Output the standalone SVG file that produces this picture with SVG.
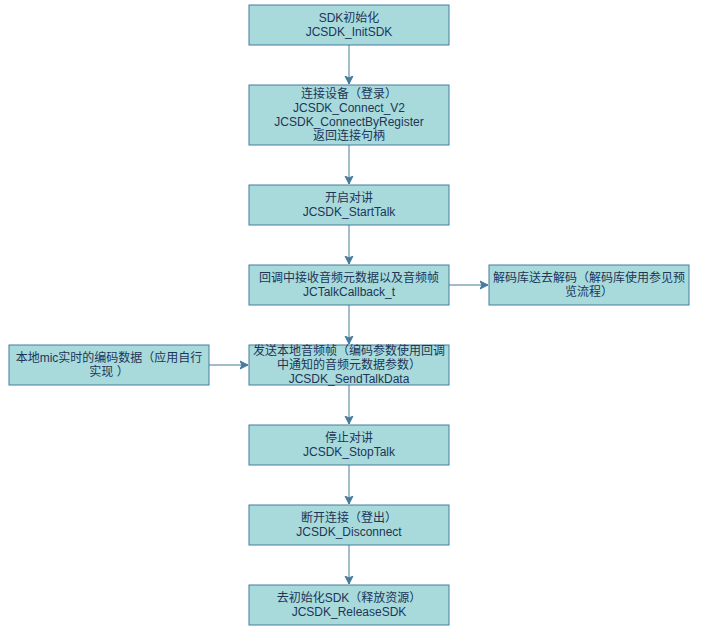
<svg xmlns="http://www.w3.org/2000/svg" width="701" height="635" viewBox="0 0 701 635">
<style>
.box{fill:#A8DADC;stroke:#457B9D;stroke-width:1}
.t{font-family:"Liberation Sans","Noto Sans CJK SC",sans-serif;font-size:12px;fill:#1D3557;text-anchor:middle;dominant-baseline:central}
.e{stroke:#457B9D;stroke-width:1;fill:none;marker-end:url(#arr)}
</style>
<defs>
<marker id="arr" markerUnits="userSpaceOnUse" markerWidth="10" markerHeight="10" refX="8" refY="4" orient="auto" viewBox="0 0 10 8">
<path d="M0,0 L8,4 L0,8 L2,4 Z" fill="#457B9D" stroke="#457B9D" stroke-width="1"/>
</marker>
</defs>
<rect width="701" height="635" fill="#ffffff"/>
<g id="connectors">
<path class="e" d="M349,45 V84"/>
<path class="e" d="M349,145 V184"/>
<path class="e" d="M349,225 V264"/>
<path class="e" d="M449,285 H488"/>
<path class="e" d="M349,305 V344"/>
<path class="e" d="M209,365 H248"/>
<path class="e" d="M349,385 V424"/>
<path class="e" d="M349,465 V504"/>
<path class="e" d="M349,545 V584"/>
</g>
<g id="init">
<rect class="box" x="249" y="5" width="200" height="40"/>
<text class="t" x="349" y="18">SDK初始化</text>
<text class="t" x="349" y="32">JCSDK_InitSDK</text>
</g>
<g id="connect">
<rect class="box" x="249" y="85" width="200" height="60"/>
<text class="t" x="349" y="94">连接设备（登录）</text>
<text class="t" x="349" y="108">JCSDK_Connect_V2</text>
<text class="t" x="349" y="122">JCSDK_ConnectByRegister</text>
<text class="t" x="349" y="136">返回连接句柄</text>
</g>
<g id="starttalk">
<rect class="box" x="249" y="185" width="200" height="40"/>
<text class="t" x="349" y="198">开启对讲</text>
<text class="t" x="349" y="212">JCSDK_StartTalk</text>
</g>
<g id="callback">
<rect class="box" x="249" y="265" width="200" height="40"/>
<text class="t" x="349" y="278">回调中接收音频元数据以及音频帧</text>
<text class="t" x="349" y="292">JCTalkCallback_t</text>
</g>
<g id="decode">
<rect class="box" x="489" y="265" width="200" height="40"/>
<text class="t" x="589" y="278">解码库送去解码（解码库使用参见预</text>
<text class="t" x="589" y="292">览流程）</text>
</g>
<g id="mic">
<rect class="box" x="9" y="345" width="200" height="40"/>
<text class="t" x="109" y="358">本地mic实时的编码数据（应用自行</text>
<text class="t" x="109" y="372">实现 ）</text>
</g>
<g id="send">
<rect class="box" x="249" y="345" width="200" height="40"/>
<text class="t" x="349" y="351">发送本地音频帧（编码参数使用回调</text>
<text class="t" x="349" y="365">中通知的音频元数据参数）</text>
<text class="t" x="349" y="379">JCSDK_SendTalkData</text>
</g>
<g id="stoptalk">
<rect class="box" x="249" y="425" width="200" height="40"/>
<text class="t" x="349" y="438">停止对讲</text>
<text class="t" x="349" y="452">JCSDK_StopTalk</text>
</g>
<g id="disconnect">
<rect class="box" x="249" y="505" width="200" height="40"/>
<text class="t" x="349" y="518">断开连接（登出）</text>
<text class="t" x="349" y="532">JCSDK_Disconnect</text>
</g>
<g id="release">
<rect class="box" x="249" y="585" width="200" height="40"/>
<text class="t" x="349" y="598">去初始化SDK（释放资源）</text>
<text class="t" x="349" y="612">JCSDK_ReleaseSDK</text>
</g>
</svg>
